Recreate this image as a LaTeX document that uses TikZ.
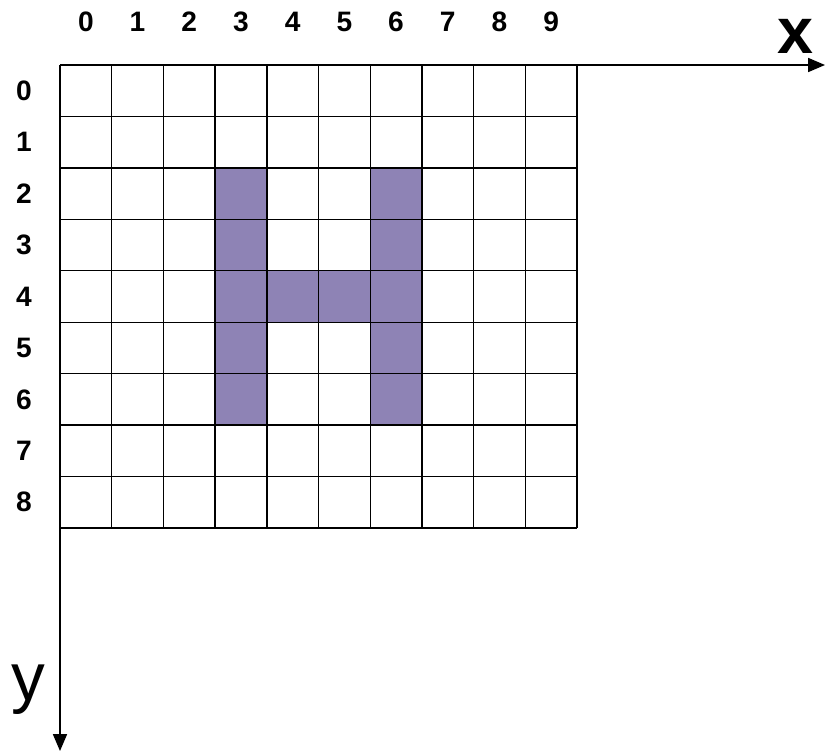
\documentclass[tikz,border=0pt]{standalone}
\usepackage{fontspec}
\setmainfont{Liberation Sans}
\usetikzlibrary{arrows.meta}
\definecolor{pixfill}{HTML}{8E83B5}
\tikzset{
  numlbl/.style={font=\bfseries\fontsize{40}{40}\selectfont, inner sep=0pt},
  axlbl/.style={font=\fontsize{96}{96}\selectfont, inner sep=0pt},
  gridline/.style={line width=2pt},
  axis/.style={line width=2pt, -{Triangle[length=24pt,width=20pt]}}
}
\begin{document}
\begin{tikzpicture}[x=0.05cm,y=-0.05cm]
	\useasboundingbox (0,0) rectangle (825,753);
	
	% filled pixels
	\foreach \c/\r in {3/2,3/3,3/4,3/5,3/6,6/2,6/3,6/4,6/5,6/6,4/4,5/4}
		\fill[pixfill] (60+51.7*\c,65+51.44*\r) rectangle (60+51.7*\c+51.7,65+51.44*\r+51.44);
	
	% grid
	\foreach \i in {0,...,10}
		\draw[gridline] (60+51.7*\i,65) -- (60+51.7*\i,528);
	\foreach \j in {0,...,9}
		\draw[gridline] (60,65+51.44*\j) -- (577,65+51.44*\j);
	
	% axes
	\coordinate (origin) at (60,65);
	\coordinate (xend) at (825,65);
	\coordinate (yend) at (60,751);
	\draw[axis] (origin) -- (xend);
	\draw[axis] (origin) -- (yend);
	\node[axlbl, font=\bfseries\fontsize{92}{92}\selectfont] (xlbl) at (795,36) {x};
	\node[axlbl] (ylbl) at (28,690) {y};
	
	% numbers
	\foreach \i in {0,...,9}
		\node[numlbl] (col\i) at (60+51.7*\i+25.85,22) {\i};
	\foreach \j in {0,...,8}
		\node[numlbl] (row\j) at (24,65+51.44*\j+25.72) {\j};
\end{tikzpicture}
\end{document}
